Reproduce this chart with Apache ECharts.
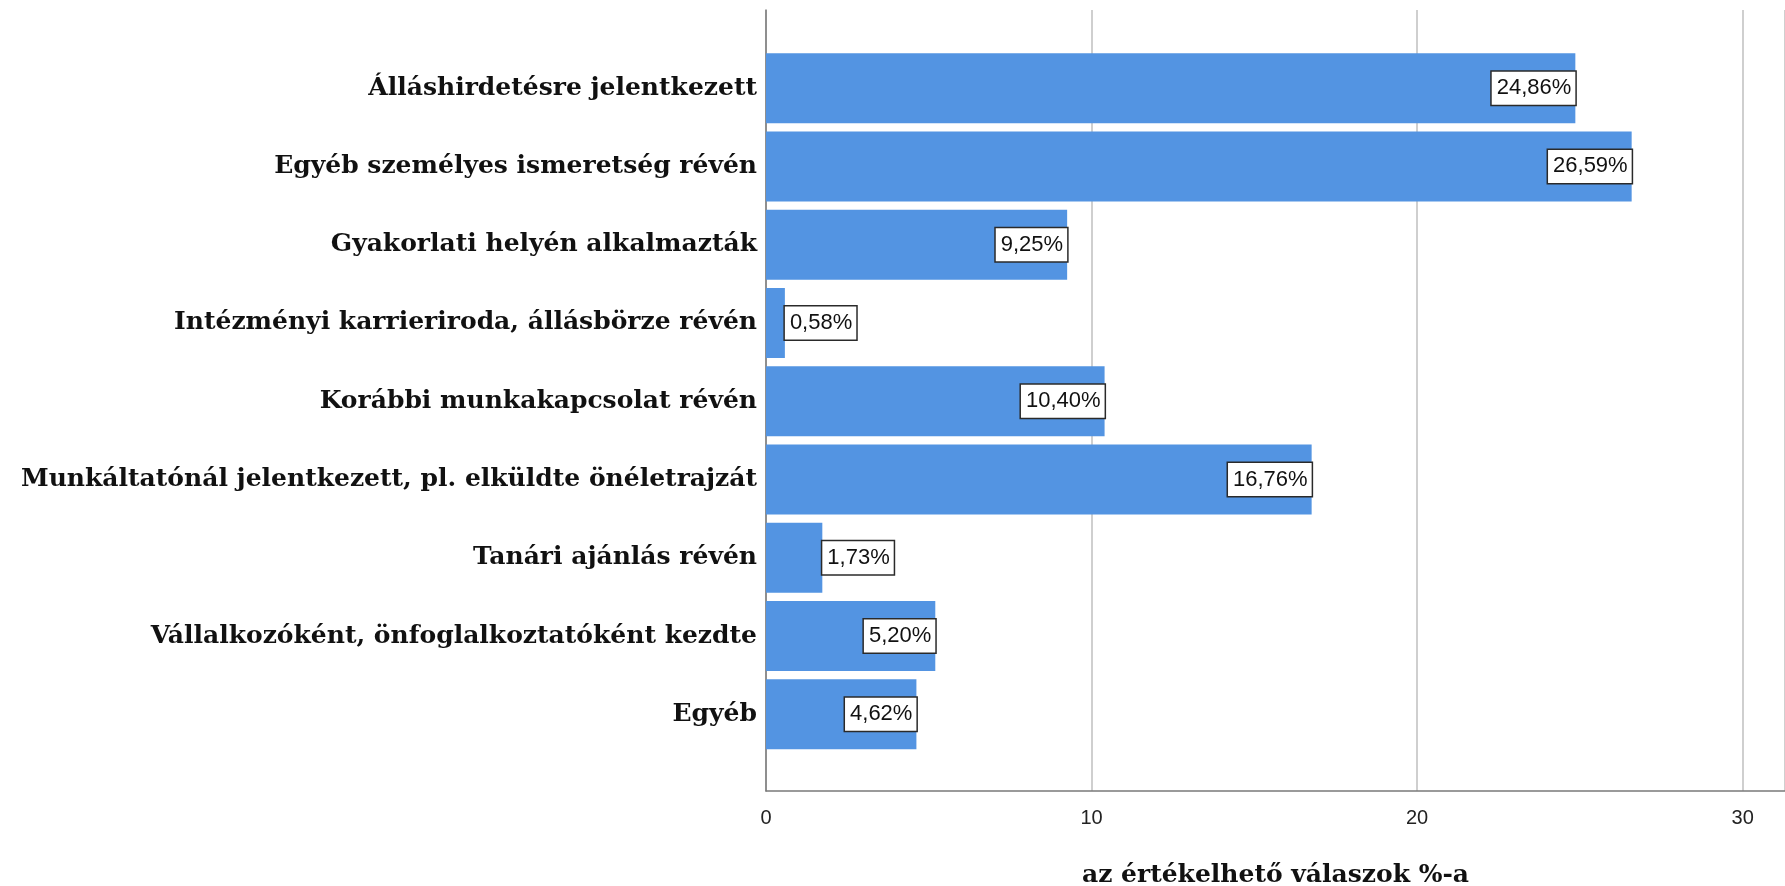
<!DOCTYPE html>
<html>
<head>
<meta charset="utf-8">
<script src="https://cdn.jsdelivr.net/npm/echarts@6/dist/echarts.min.js"></script>
<style>
html,body{margin:0;padding:0;background:#fff;}
#chart{width:1785px;height:886px;}
</style>
</head>
<body>
<div id="chart"></div>
<script>
const categories = [
  "Álláshirdetésre jelentkezett",
  "Egyéb személyes ismeretség révén",
  "Gyakorlati helyén alkalmazták",
  "Intézményi karrieriroda, állásbörze révén",
  "Korábbi munkakapcsolat révén",
  "Munkáltatónál jelentkezett, pl. elküldte önéletrajzát",
  "Tanári ajánlás révén",
  "Vállalkozóként, önfoglalkoztatóként kezdte",
  "Egyéb"
];
const values = [24.86, 26.59, 9.25, 0.58, 10.40, 16.76, 1.73, 5.20, 4.62];
const xTicks = [0, 10, 20, 30];
const xAxisName = "az értékelhető válaszok %-a";

const XMAX = 31.3;
const chart = echarts.init(document.getElementById('chart'), null, {renderer: 'canvas'});

const barData = values.map(v => ({
  value: v,
  label: { position: v < 3 ? 'right' : 'insideRight' }
}));

const option = {
  animation: false,
  backgroundColor: '#ffffff',
  grid: [
    { left: 766, right: 0, top: 10, bottom: 95, containLabel: false, outerBoundsMode: 'none' },
    { left: 766, right: 0, top: 49, bottom: 132.5, containLabel: false, outerBoundsMode: 'none' }
  ],
  xAxis: [
    {
      gridIndex: 0, type: 'value', min: 0, max: XMAX, interval: 10,
      axisLine: { show: true, lineStyle: { color: '#7a7a7a', width: 1.5 } },
      axisTick: { show: false },
      splitLine: { show: true, lineStyle: { color: '#cfcfcf', width: 2 } },
      axisLabel: {
        margin: 17, fontFamily: 'Liberation Sans', fontSize: 20, color: '#222',
        formatter: v => (xTicks.indexOf(v) >= 0 ? String(v) : '')
      },
      name: xAxisName, nameLocation: 'middle', nameGap: 72,
      nameTextStyle: {
        fontFamily: 'DejaVu Serif', fontWeight: 'bold', fontSize: 25, color: '#111'
      }
    },
    {
      gridIndex: 1, type: 'value', min: 0, max: XMAX, show: false,
      splitLine: { show: false }
    }
  ],
  yAxis: [
    {
      gridIndex: 0, type: 'value', min: 0, max: 1,
      axisLine: { show: true, lineStyle: { color: '#7a7a7a', width: 1.5 } },
      axisTick: { show: false }, axisLabel: { show: false }, splitLine: { show: false }
    },
    {
      gridIndex: 1, type: 'category', data: categories, inverse: true,
      axisLine: { show: false }, axisTick: { show: false }, splitLine: { show: false },
      axisLabel: {
        margin: 9, fontFamily: 'DejaVu Serif', fontWeight: 'bold', fontSize: 25, color: '#111'
      }
    }
  ],
  series: [
    {
      type: 'bar', xAxisIndex: 1, yAxisIndex: 1, data: barData,
      barCategoryGap: '10.6%',
      itemStyle: { color: '#5394e2' },
      label: {
        show: true, distance: 0,
        formatter: p => p.value.toFixed(2).replace('.', ',') + '%',
        fontFamily: 'Liberation Sans', fontSize: 22, color: '#111',
        backgroundColor: '#ffffff', borderColor: '#2a2a2a', borderWidth: 1.5,
        padding: [6, 4, 5, 5]
      }
    }
  ]
};
chart.setOption(option);
</script>
</body>
</html>
